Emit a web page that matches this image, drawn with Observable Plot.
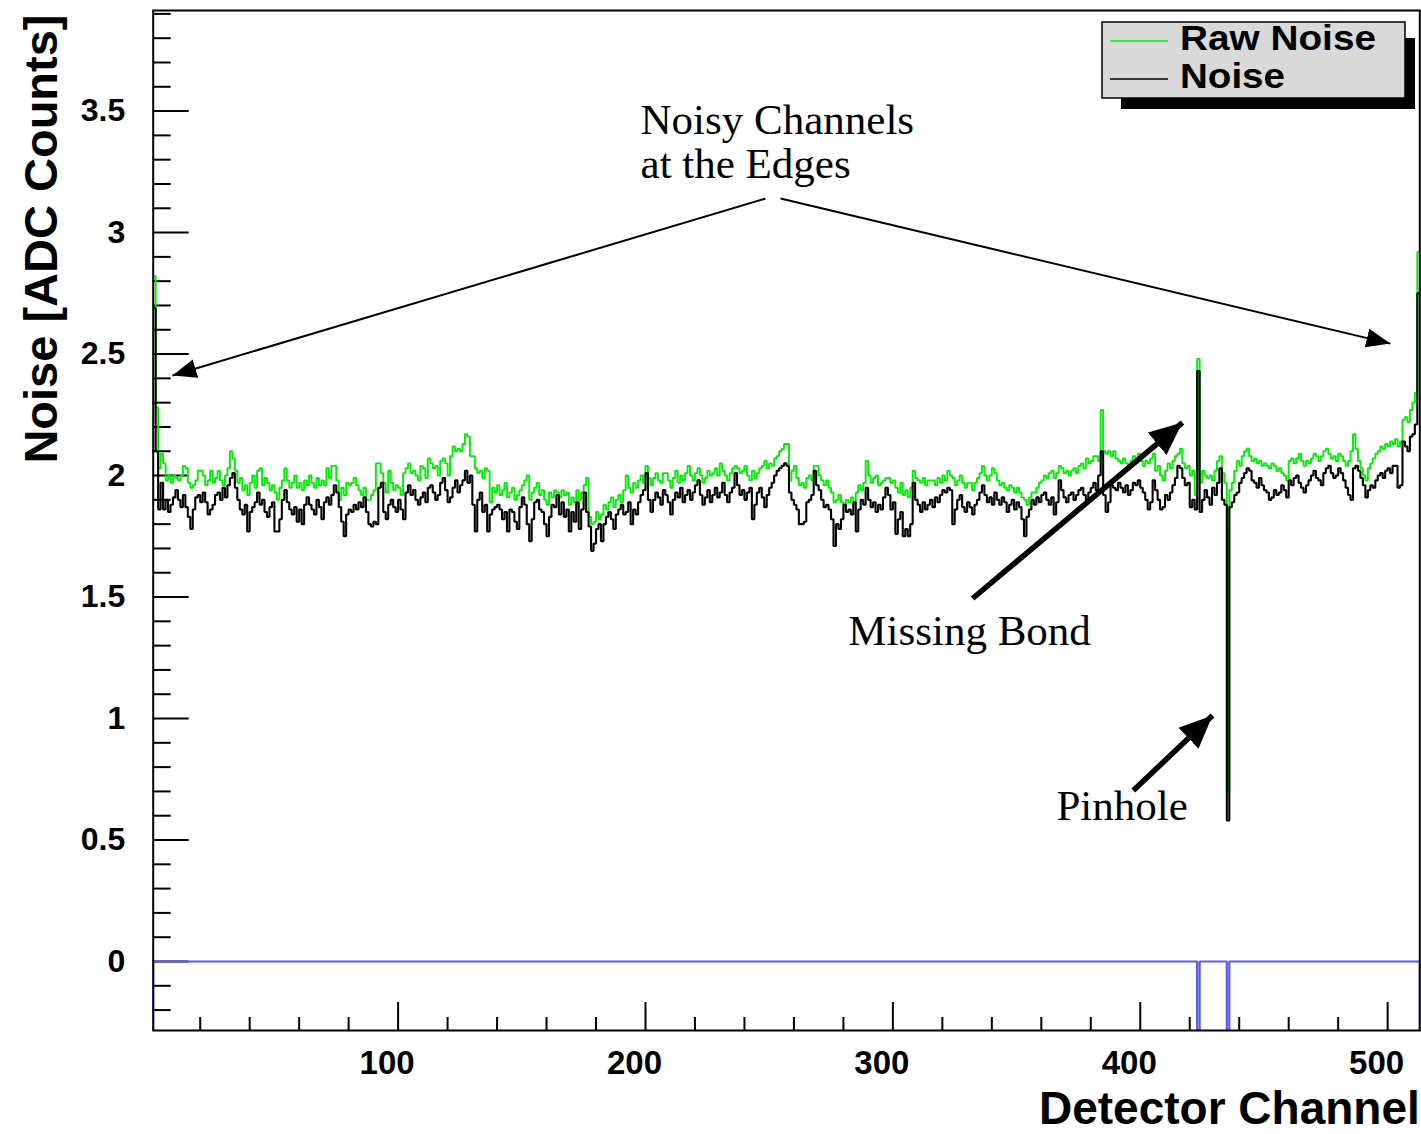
<!DOCTYPE html>
<html><head><meta charset="utf-8">
<script src="https://cdn.jsdelivr.net/npm/d3@7"></script>
<script src="https://cdn.jsdelivr.net/npm/@observablehq/plot@0.6"></script>
<style>html,body{margin:0;padding:0;background:#fff}</style>
</head><body><div id="chart"></div>
<script>
// Detector channels 1..512 (one histogram bin each)
const channels = d3.range(1, 513);

// Raw noise per channel [ADC counts] (green histogram)
const rawNoise = [
2.82,2.28,2.03,2.09,2.05,1.98,2.00,1.97,2.00,1.99,1.98,2.00,2.04,2.03,1.97,1.95,
1.96,1.98,2.02,2.02,2.00,1.96,1.98,2.02,1.97,1.99,2.02,1.98,1.96,2.00,2.03,2.10,
2.07,2.02,1.97,1.99,1.94,1.96,1.92,1.97,2.00,1.95,2.02,2.03,1.96,1.99,1.97,1.94,
1.96,1.93,1.90,1.95,1.98,2.03,1.98,1.95,1.97,2.00,1.95,1.97,1.94,1.98,1.96,2.00,
1.97,1.95,1.99,1.96,1.98,1.96,2.03,1.99,2.04,2.04,1.98,1.90,1.95,1.92,1.97,1.96,
1.97,1.99,1.96,1.94,1.92,1.95,1.90,1.90,1.92,1.94,2.05,2.05,2.01,1.97,1.93,2.02,
1.97,1.94,1.96,1.95,1.92,2.01,2.03,2.05,2.01,2.02,2.00,1.98,2.04,2.03,1.99,2.07,
2.05,2.03,2.04,2.00,2.06,2.07,2.05,2.00,2.08,2.12,2.10,2.11,2.10,2.13,2.17,2.16,
2.08,2.08,2.03,2.01,2.02,1.99,2.03,2.02,1.89,1.95,1.93,1.96,1.92,1.94,1.97,1.91,
1.93,1.95,1.90,1.92,1.94,1.96,1.98,2.00,1.90,1.93,1.95,1.97,1.92,1.94,1.90,1.88,
1.93,1.91,1.94,1.93,1.91,1.94,1.92,1.93,1.88,1.91,1.89,1.94,1.90,1.93,1.96,1.99,
1.83,1.80,1.81,1.85,1.82,1.84,1.88,1.86,1.89,1.91,1.87,1.90,1.92,1.89,1.94,2.00,
1.95,1.93,1.97,1.95,1.98,2.00,1.97,2.04,1.99,1.96,1.99,2.01,1.98,1.97,2.01,2.01,
1.98,1.95,1.99,2.02,1.97,2.00,1.98,2.01,2.04,2.00,1.98,2.01,2.03,2.00,1.97,1.99,
2.02,2.00,2.01,2.03,2.00,2.05,2.02,2.00,1.98,2.01,2.03,2.04,2.03,2.01,2.02,2.04,
2.00,1.98,2.02,1.99,2.01,2.03,2.04,2.06,2.03,2.05,2.04,2.07,2.08,2.10,2.11,2.13,
2.13,1.98,2.02,2.04,1.99,1.96,1.97,1.95,1.99,2.00,1.98,2.04,2.04,2.00,1.98,1.96,
1.98,1.95,1.93,1.89,1.90,1.92,1.89,1.88,1.90,1.89,1.91,1.89,1.93,1.96,1.94,1.97,
2.06,2.00,1.97,1.99,2.00,1.96,1.97,1.98,1.99,1.99,1.97,1.98,1.95,1.93,1.97,1.92,
1.94,1.91,1.95,2.02,1.99,1.98,1.97,1.99,1.96,1.98,1.98,1.98,1.96,1.99,1.97,2.00,
1.98,2.02,2.00,1.99,1.96,1.98,2.00,1.97,1.95,1.97,1.97,1.94,1.97,1.99,2.01,2.04,
2.00,1.98,2.00,2.03,2.01,1.98,1.96,1.97,1.95,1.94,1.96,1.95,1.93,1.95,1.93,1.91,
1.90,1.88,1.91,1.93,1.93,1.95,1.97,1.98,2.00,1.99,2.01,2.02,1.99,2.01,2.04,2.03,
2.01,2.02,2.00,2.02,2.03,2.01,2.04,2.05,2.03,2.07,2.05,2.06,2.08,2.08,2.06,2.27,
2.10,2.09,2.10,2.08,2.10,2.07,2.06,2.05,2.07,2.05,2.03,2.06,2.08,2.05,2.09,2.06,
2.04,2.06,2.05,2.07,2.09,2.02,2.04,2.00,1.98,2.02,2.05,2.03,2.06,2.08,2.09,2.11,
2.05,2.03,2.04,2.00,2.02,1.92,2.48,1.97,2.02,2.00,1.99,2.00,1.98,2.02,2.06,2.08,
2.01,1.97,0.70,1.94,1.97,2.02,2.06,2.04,2.08,2.10,2.11,2.08,2.06,2.07,2.05,2.06,
2.04,2.05,2.04,2.03,2.05,2.04,2.02,2.03,2.01,2.00,1.98,2.06,2.07,2.05,2.07,2.09,
2.06,2.04,2.06,2.05,2.07,2.09,2.08,2.06,2.08,2.10,2.11,2.09,2.07,2.08,2.06,2.09,
2.08,2.06,2.04,2.06,2.10,2.17,2.11,2.06,2.03,2.00,1.98,2.03,2.05,2.07,2.09,2.10,
2.12,2.11,2.13,2.12,2.14,2.13,2.15,2.12,2.14,2.23,2.24,2.22,2.27,2.30,2.34,2.92
];

// Noise per channel after common-mode correction [ADC counts] (black histogram)
const noise = [
2.69,2.10,1.86,1.97,1.86,1.90,1.85,1.88,1.91,1.94,1.90,1.87,1.92,1.87,1.83,1.78,
1.86,1.91,1.92,1.89,1.93,1.89,1.84,1.86,1.88,1.92,1.93,1.90,1.95,1.91,1.96,1.99,
2.01,1.95,1.90,1.86,1.84,1.88,1.77,1.85,1.87,1.89,1.93,1.88,1.90,1.85,1.83,1.87,
1.89,1.77,1.77,1.82,1.90,1.94,1.89,1.86,1.84,1.87,1.81,1.86,1.80,1.88,1.91,1.88,
1.86,1.84,1.90,1.87,1.82,1.89,1.91,1.88,1.92,1.96,1.93,1.87,1.81,1.75,1.84,1.86,
1.85,1.88,1.86,1.89,1.87,1.91,1.85,1.80,1.79,1.81,1.80,1.95,1.97,1.85,1.82,1.88,
1.90,1.87,1.85,1.90,1.86,1.82,1.93,1.96,1.92,1.94,1.90,1.88,1.91,1.93,1.89,1.95,
1.96,1.93,1.90,1.92,1.97,1.99,1.94,1.89,1.91,1.95,1.98,1.93,1.96,1.98,2.02,1.97,
2.00,1.88,1.77,1.90,1.93,1.85,1.88,1.77,1.84,1.86,1.87,1.88,1.86,1.82,1.85,1.77,
1.86,1.85,1.81,1.78,1.87,1.91,1.88,1.80,1.73,1.82,1.89,1.90,1.86,1.85,1.80,1.75,
1.83,1.88,1.87,1.92,1.84,1.89,1.83,1.86,1.77,1.85,1.81,1.89,1.78,1.86,1.93,1.85,
1.79,1.69,1.72,1.78,1.80,1.73,1.80,1.83,1.85,1.82,1.78,1.84,1.86,1.88,1.84,1.85,
1.89,1.80,1.86,1.84,1.89,1.92,1.94,2.01,1.90,1.85,1.90,1.93,1.91,1.88,1.94,1.92,
1.89,1.84,1.90,1.93,1.91,1.95,1.89,1.92,1.94,1.90,1.93,1.96,1.98,1.92,1.88,1.91,
1.94,1.89,1.92,1.95,1.91,1.93,1.97,1.92,1.89,1.93,1.95,2.01,1.96,1.92,1.94,1.90,
1.93,1.95,1.82,1.88,1.93,1.95,1.91,1.87,1.92,1.95,1.97,2.00,2.02,2.03,2.04,2.05,
2.04,1.93,1.90,1.88,1.86,1.80,1.80,1.81,1.89,1.90,1.92,2.02,1.96,1.94,1.90,1.87,
1.88,1.86,1.82,1.71,1.80,1.78,1.82,1.88,1.85,1.86,1.84,1.89,1.77,1.86,1.90,1.88,
1.95,1.90,1.87,1.89,1.85,1.88,1.86,1.91,1.95,1.92,1.86,1.89,1.76,1.82,1.85,1.75,
1.78,1.75,1.80,1.97,1.90,1.88,1.85,1.89,1.86,1.88,1.90,1.87,1.91,1.89,1.92,1.94,
1.93,1.95,1.94,1.80,1.86,1.90,1.92,1.87,1.85,1.89,1.87,1.84,1.88,1.90,1.93,1.96,
1.92,1.89,1.91,1.88,1.93,1.90,1.88,1.91,1.89,1.85,1.88,1.90,1.86,1.89,1.87,1.82,
1.75,1.83,1.86,1.90,1.88,1.91,1.89,1.92,1.93,1.90,1.88,1.91,1.84,1.89,1.98,1.94,
1.91,1.89,1.92,1.93,1.90,1.92,1.94,1.95,1.92,1.90,1.93,1.95,1.97,1.94,2.00,2.10,
1.92,1.85,1.89,1.96,1.95,1.94,1.97,1.95,1.93,1.96,1.92,1.94,1.97,1.96,1.98,1.95,
1.93,1.90,1.86,1.89,1.98,1.94,1.90,1.86,1.87,1.92,1.90,1.93,1.96,1.99,2.04,2.03,
1.99,1.96,1.97,1.87,1.90,1.86,2.43,1.85,1.90,1.94,1.91,1.88,1.95,1.92,1.97,2.03,
1.90,1.88,0.58,1.87,1.89,1.92,1.93,1.97,1.99,2.01,2.03,2.02,1.98,1.97,1.95,1.99,
1.96,1.94,1.93,1.90,1.91,1.94,1.92,1.93,1.96,1.94,1.91,1.98,1.96,1.99,2.00,1.97,
1.95,1.93,1.96,1.98,2.00,2.02,1.99,1.98,1.96,2.01,2.03,2.04,2.01,1.99,2.00,2.03,
2.01,1.98,1.95,1.92,1.90,2.03,2.04,2.02,1.99,1.96,1.91,1.94,1.96,1.95,1.98,2.00,
2.01,1.99,2.02,2.03,2.01,2.04,2.04,1.95,1.96,2.14,2.12,2.10,2.16,2.17,2.21,2.75
];

// Bad-channel flag histogram (blue): 0 for good channels, negative for flagged ones
const badChannels = [423, 435];
const badFlagValue = -1;

// Axes
const xDomain = [1, 513];
const yDomain = [-0.284, 3.914];
const xMajorTicks = [100, 200, 300, 400, 500];
const xTickLabels = ["100", "200", "300", "400", "500"];
const xMinorTicks = [20,40,60,80,120,140,160,180,220,240,260,280,320,340,360,380,420,440,460,480];
const yMajorTicks = [0, 0.5, 1, 1.5, 2, 2.5, 3, 3.5];
const yTickLabels = ["0", "0.5", "1", "1.5", "2", "2.5", "3", "3.5"];
const yMinorTicks = [-0.2,-0.1,0.1,0.2,0.3,0.4,0.6,0.7,0.8,0.9,1.1,1.2,1.3,1.4,1.6,1.7,1.8,1.9,2.1,2.2,2.3,2.4,2.6,2.7,2.8,2.9,3.1,3.2,3.3,3.4,3.6,3.7,3.8,3.9];
const xLabel = "Detector Channel";
const yLabel = "Noise [ADC Counts]";

// Legend
const legendLabels = ["Raw Noise", "Noise"];
const legendColors = ["#00ee00", "#000000"];

// Annotations (data coordinates: channel, noise)
const noteLabels = ["Noisy Channels", "at the Edges", "Missing Bond", "Pinhole"];
const noteChannel = [198.0, 198.0, 282.0, 366.1];
const noteNoise = [3.462, 3.281, 1.358, 0.638];
const arrowFromChannel = [248.5, 254.6, 332.2, 397.2];
const arrowFromNoise = [3.14, 3.14, 1.494, 0.704];
const arrowToChannel = [8.8, 501.1, 417.05, 429.2];
const arrowToNoise = [2.412, 2.543, 2.218, 1.012];
const arrowThick = [false, false, true, true];

// ---------- build ----------
const W = 1421, H = 1134;
const mL = 152.7, mR = 1.7, mT = 10, mB = 104;
const frameW = W - mL - mR, frameH = H - mT - mB;

function stepOutline(values) {
  return values.flatMap((v, i) => [[channels[i], v], [channels[i] + 1, v]]);
}
const flagValues = channels.map(c => badChannels.includes(c) ? badFlagValue : 0);
const flagOutline = [[channels[0], yDomain[0]], ...stepOutline(flagValues), [channels[channels.length - 1] + 1, yDomain[0]]];

const xLabMap = new Map(xMajorTicks.map((t, i) => [t, xTickLabels[i]]));
const yLabMap = new Map(yMajorTicks.map((t, i) => [t, yTickLabels[i]]));
const arrowIdx = d3.range(arrowFromChannel.length);
const noteIdx = d3.range(noteLabels.length);

function legendMark(index, scales, values, dimensions) {
  const g = d3.create("svg:g").attr("font-family", "'Liberation Sans', Arial, sans-serif");
  const bx = 1102, by = 22, bw = 303, bh = 76;
  g.append("rect").attr("x", 1121).attr("y", 38).attr("width", 294).attr("height", 71).attr("fill", "#000");
  g.append("rect").attr("x", bx).attr("y", by).attr("width", bw).attr("height", bh)
    .attr("fill", "#d9d9d9").attr("stroke", "#000").attr("stroke-width", 1.5);
  const rowY = [41, 79], baseY = [50, 88], textW = [196, 105];
  legendLabels.forEach((lab, i) => {
    g.append("line").attr("x1", 1110).attr("x2", 1168).attr("y1", rowY[i]).attr("y2", rowY[i])
      .attr("stroke", legendColors[i]).attr("stroke-width", 1.6);
    g.append("text").attr("x", 1180).attr("y", baseY[i]).text(lab)
      .attr("text-anchor", "start")
      .attr("font-size", 35).attr("font-weight", "bold").attr("fill", "#000")
      .attr("textLength", textW[i]).attr("lengthAdjust", "spacingAndGlyphs");
  });
  return g.node();
}

const chart = Plot.plot({
  width: W, height: H,
  marginLeft: mL, marginRight: mR, marginTop: mT, marginBottom: mB,
  x: {domain: xDomain},
  y: {domain: yDomain},
  style: {fontFamily: "'Liberation Sans', Arial, sans-serif", background: "#fff", color: "#000"},
  marks: [
    // ticks inside frame
    Plot.tickY(yMajorTicks, {y: d => d, stroke: "#000", strokeWidth: 2, insetRight: frameW - 36}),
    Plot.tickY(yMinorTicks, {y: d => d, stroke: "#000", strokeWidth: 2, insetRight: frameW - 18}),
    Plot.tickX(xMajorTicks, {x: d => d, stroke: "#000", strokeWidth: 2, insetTop: frameH - 28}),
    Plot.tickX(xMinorTicks, {x: d => d, stroke: "#000", strokeWidth: 2, insetTop: frameH - 13}),
    Plot.line(stepOutline(rawNoise), {x: d => d[0], y: d => d[1], stroke: legendColors[0], strokeWidth: 1.9, strokeLinejoin: "miter", strokeLinecap: "butt", clip: true}),
    Plot.line(stepOutline(noise), {x: d => d[0], y: d => d[1], stroke: legendColors[1], strokeWidth: 2.1, strokeLinejoin: "miter", strokeLinecap: "butt", clip: true}),
    Plot.line(flagOutline, {x: d => d[0], y: d => d[1], stroke: "#5a5af0", strokeWidth: 2.2, strokeLinejoin: "miter", strokeLinecap: "butt", clip: true}),
    Plot.frame({stroke: "#000", strokeWidth: 2}),
    Plot.axisY(yMajorTicks, {tickSize: 0, tickPadding: 28, fontSize: 32, fontWeight: "bold", tickFormat: d => yLabMap.get(d), label: null}),
    Plot.axisX(xMajorTicks, {tickSize: 0, tickPadding: 20, fontSize: 33, fontWeight: "bold", dx: -11, tickFormat: d => xLabMap.get(d), label: null}),
    Plot.text([xLabel], {text: d => d, frameAnchor: "bottom-right", textAnchor: "end", lineAnchor: "middle", dy: 79, fontSize: 46, fontWeight: "bold", fill: "#000"}),
    Plot.text([yLabel], {text: d => d, frameAnchor: "top-left", rotate: -90, textAnchor: "end", lineAnchor: "middle", dx: 41 - mL, dy: 4, fontSize: 47, fontWeight: "bold", fill: "#000"}),
    // annotations
    Plot.text(noteIdx, {x: i => noteChannel[i], y: i => noteNoise[i], text: i => noteLabels[i], textAnchor: "start", lineAnchor: "middle", fontSize: 43, fontFamily: "'Liberation Serif', 'Times New Roman', serif", fill: "#000"}),
    Plot.link(arrowIdx, {filter: i => !arrowThick[i], x1: i => arrowFromChannel[i], y1: i => arrowFromNoise[i], x2: i => arrowToChannel[i], y2: i => arrowToNoise[i], stroke: "#000", strokeWidth: 2, ariaDescription: "arrow-thin"}),
    Plot.link(arrowIdx, {filter: i => arrowThick[i], x1: i => arrowFromChannel[i], y1: i => arrowFromNoise[i], x2: i => arrowToChannel[i], y2: i => arrowToNoise[i], stroke: "#000", strokeWidth: 5.5, strokeLinecap: "butt", ariaDescription: "arrow-thick"}),
    legendMark
  ]
});

// arrowheads (filled triangles)
const svgSel = d3.select(chart.tagName.toLowerCase() === "svg" ? chart : chart.querySelector("svg"));
const defs = svgSel.insert("defs", ":first-child");
function addHead(id, len, wid) {
  defs.append("marker").attr("id", id).attr("markerUnits", "userSpaceOnUse")
    .attr("markerWidth", len + 2).attr("markerHeight", wid + 2)
    .attr("refX", len).attr("refY", wid / 2 + 1).attr("orient", "auto")
    .append("path").attr("d", `M0,1L${len},${wid / 2 + 1}L0,${wid + 1}Z`).attr("fill", "#000").attr("stroke", "none");
}
addHead("headThin", 24, 19);
addHead("headThick", 33, 29);
function eachElem(label, sel, fn) {
  svgSel.selectAll(`[aria-description="${label}"]`).each(function () {
    if (this.tagName.toLowerCase() === "g") d3.select(this).selectAll(sel).each(fn);
    else fn.call(this);
  });
}
eachElem("arrow-thin", "path", function () { d3.select(this).attr("marker-end", "url(#headThin)"); });
eachElem("arrow-thick", "path", function () { d3.select(this).attr("marker-end", "url(#headThick)"); });

document.getElementById("chart").appendChild(chart);
</script>
</body></html>
